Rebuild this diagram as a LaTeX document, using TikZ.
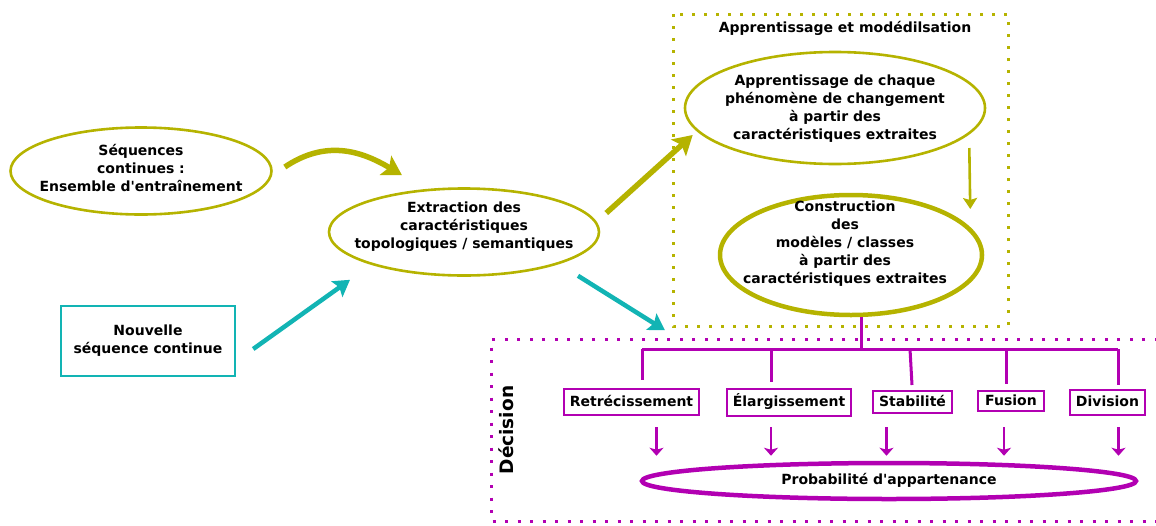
\documentclass[tikz,border=0pt]{standalone}
\usepackage{fontspec}
\setmainfont{DejaVu Sans}
\usetikzlibrary{shapes.geometric,arrows.meta,calc}
\definecolor{olivec}{RGB}{181,179,0}
\definecolor{tealc}{RGB}{18,180,180}
\definecolor{magc}{RGB}{178,0,178}
\newcommand{\apos}{\textquotesingle}
\begin{document}
\begin{tikzpicture}[x=1pt,y=-1pt,
  every node/.style={font=\bfseries\fontsize{14}{18}\selectfont, align=center, inner sep=0pt},
  oval/.style={ellipse, draw=olivec, line width=2.6pt},
  thickoval/.style={ellipse, draw=olivec, line width=4.5pt},
  tealbox/.style={rectangle, draw=tealc, line width=2.4pt},
  decbox/.style={rectangle, draw=magc, line width=2.4pt, text height=11pt, text depth=3pt},
  bigolive/.style={draw=olivec, line width=5.5pt, -{Stealth[length=19pt,width=22pt,inset=4pt]}},
  bigteal/.style={draw=tealc, line width=4.5pt, -{Stealth[length=16pt,width=19pt,inset=3pt]}},
  thinolive/.style={draw=olivec, line width=2.6pt, -{Stealth[length=11pt,width=14pt,inset=2pt]}},
  thinmag/.style={draw=magc, line width=2.6pt, -{Stealth[length=8pt,width=14pt,inset=2pt]}},
  branch/.style={draw=magc, line width=3pt},
  olivedots/.style={draw=olivec, line width=3pt, dash pattern=on 3pt off 9pt},
  magdots/.style={draw=magc, line width=3pt, dash pattern=on 3pt off 9.5pt}
]
\useasboundingbox (0,0) rectangle (1156,525);

% dotted frames
\draw[olivedots] (673,14) rectangle (1008,326);
\begin{scope}
  \clip (0,0) rectangle (1156,525);
  \draw[magdots] (1170,339) -- (491,339) -- (491,521) -- (1170,521);
\end{scope}

% left column and extraction step
\node[oval, minimum width=261pt, minimum height=87pt] (seq) at (141,171) {};
\node (seqtxt) at ($(seq)+(0,-3)$) {Séquences\\continues :\\Ensemble d\apos entraînement};
\node[tealbox, minimum width=174pt, minimum height=70pt] (nouv) at (148,341)
  {Nouvelle\\séquence continue};
\node[oval, minimum width=270pt, minimum height=87pt] (extr) at (464,232) {};
\node (extrtxt) at ($(extr)+(0,-5)$) {Extraction des\\caractéristiques\\topologiques / semantiques};

% learning and modelling block
\node (titreA) at (845,28) {Apprentissage et modédilsation};
\node[oval, minimum width=300pt, minimum height=112pt] (appr) at (835,108) {};
\node (apprtxt) at ($(appr)+(0,1)$)
  {Apprentissage de chaque\\phénomène de changement\\à partir des\\caractéristiques extraites};
\node[thickoval, minimum width=262pt, minimum height=120pt] (constr) at (851,255) {};
\node (constrtxt) at ($(constr)+(-6,-11)$)
  {Construction\\des\\modèles / classes\\à partir des\\caractéristiques extraites};

% decision block
\node[rotate=90, font=\bfseries\fontsize{18.5}{22}\selectfont] (dec) at (506,430) {Décision};
\node[decbox, minimum width=135pt, minimum height=26pt] (retr) at (631.5,402) {Retrécissement};
\node[decbox, minimum width=124pt, minimum height=27pt] (elar) at (789,402.5) {Élargissement};
\node[decbox, minimum width=79pt, minimum height=22pt] (stab) at (912.5,402) {Stabilité};
\node[decbox, minimum width=66pt, minimum height=20pt] (fus)  at (1011,401) {Fusion};
\node[decbox, minimum width=75pt, minimum height=25pt] (div)  at (1107.5,402.5) {Division};
\node[ellipse, draw=magc, line width=4.5pt, minimum width=494pt, minimum height=36pt] (prob) at (889,481) {};
\node (probtxt) at ($(prob)+(0,-1)$) {Probabilité d\apos appartenance};

% arrows between the steps
\draw[bigolive] ([shift={(12,-4)}]seq.east) .. controls (325,140) and (360,150) .. ([shift={(-62,-12)}]extr.north);
\draw[bigteal] ([shift={(17,8)}]nouv.east) -- ([shift={(-114,3)}]extr.south);
\draw[bigolive] ([shift={(6,-19)}]extr.east) -- ([shift={(9,27)}]appr.west);
\draw[bigteal] ([shift={(114,-1)}]extr.south) -- ([shift={(-186,13)}]constr.south);
\draw[thinolive] ([shift={(-17,40)}]appr.east) -- ([shift={(-14,-46)}]constr.east);

% branching towards the change classes
\coordinate (split) at (861,349);
\draw[branch] (constr.south -| split) -- (split);
\draw[branch] (642,349) -- (1118,349);
\draw[branch] (642,349) -- (642,380);
\draw[branch] (771,349) -- (771,382);
\draw[branch] (910,349) -- (912,385);
\draw[branch] (1006,349) -- (1006,384);
\draw[branch] (1118,349) -- (1118,385);

% arrows into the membership probability
\draw[thinmag] ($(retr.south |- 0,427)+(25,0)$) -- ($(retr.south |- prob.north)+(25,-5)$);
\draw[thinmag] ($(elar.south |- 0,427)+(-18,0)$) -- ($(elar.south |- prob.north)+(-18,-5)$);
\draw[thinmag] ($(stab.south |- 0,427)+(-26,0)$) -- ($(stab.south |- prob.north)+(-26,-5)$);
\draw[thinmag] ($(fus.south |- 0,427)+(-7,0)$) -- ($(fus.south |- prob.north)+(-7,-5)$);
\draw[thinmag] ($(div.south |- 0,427)+(11,0)$) -- ($(div.south |- prob.north)+(11,-5)$);
\end{tikzpicture}
\end{document}
